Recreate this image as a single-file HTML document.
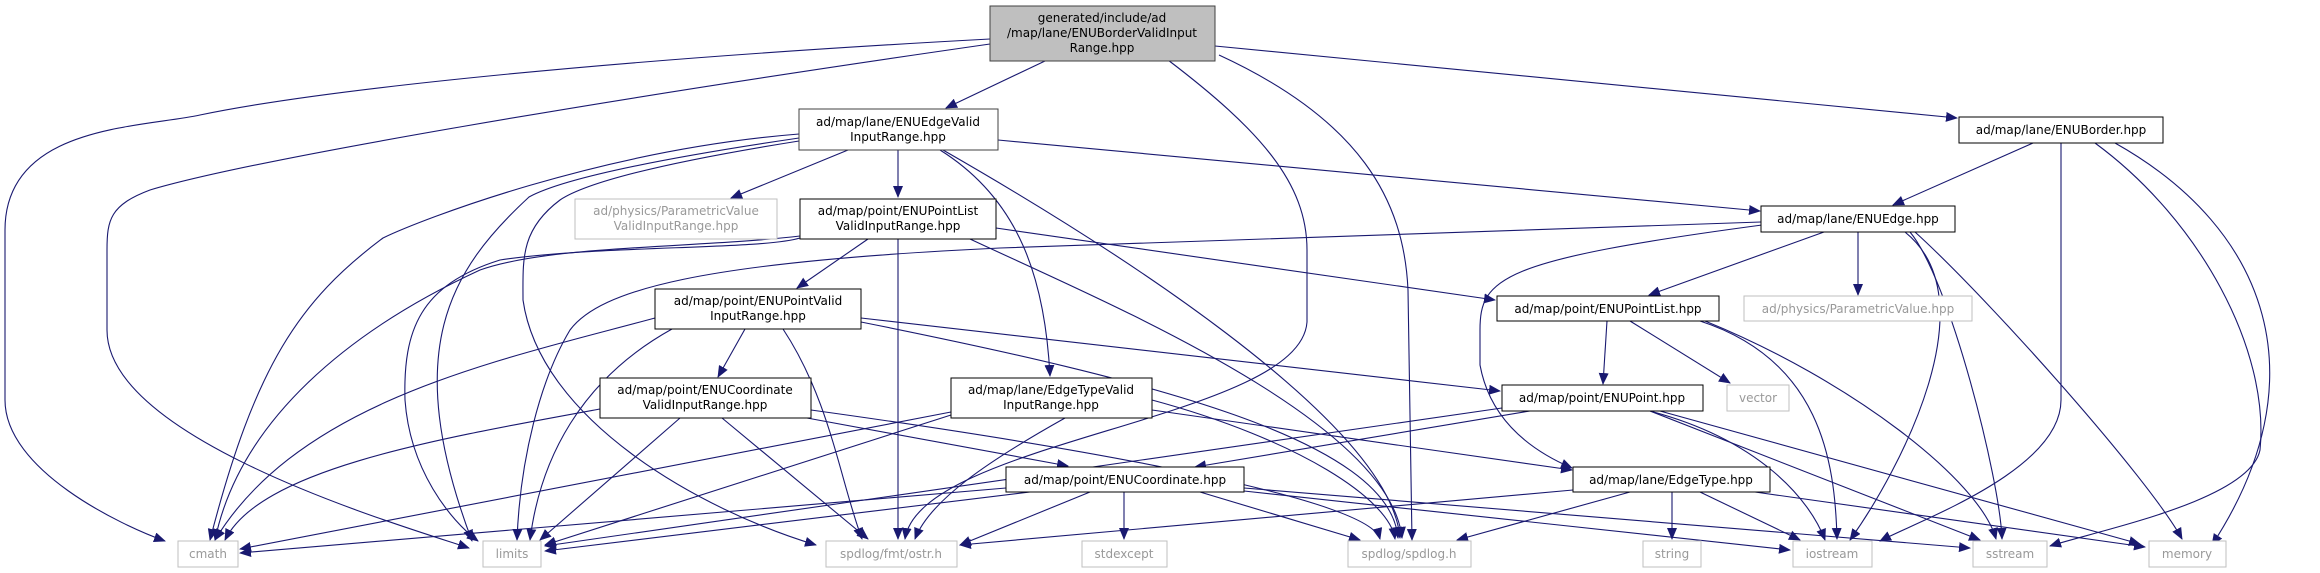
<!DOCTYPE html>
<html><head><meta charset="utf-8"><style>
html,body{margin:0;padding:0;background:#fff;}
svg{display:block;}
text{font-family:"DejaVu Sans","Liberation Sans",sans-serif;font-size:12px;fill:#000;text-anchor:middle;}
.g text{fill:#999;}
path{fill:none;stroke:#191970;stroke-width:1.1;marker-end:url(#a);}
</style></head><body>
<svg width="2320" height="573" viewBox="0 0 2320 573" xmlns="http://www.w3.org/2000/svg">
<defs><marker id="a" markerUnits="userSpaceOnUse" markerWidth="12" markerHeight="10" refX="11" refY="5" orient="auto"><polygon points="0,0 12,5 0,10" fill="#191970"/></marker></defs>

<!-- edges from top -->
<path d="M990,39 C600,60 320,90 200,115 C140,128 5,125 5,230 L5,400 C5,470 120,525 165,541"/>
<path d="M990,44 C600,100 250,160 150,190 C110,205 107,220 107,250 L107,330 C107,440 400,525 469,548"/>
<path d="M1045,61 L946,108"/>
<path d="M1215,46 L1957,118"/>
<path d="M1219,55 C1360,120 1404,200 1408,290 L1412,540"/>
<path d="M1168,60 C1260,130 1307,183 1307,250 L1307,322 C1300,420 920,440 905,539"/>

<!-- ENUEdgeValid -->
<path d="M848,150 L731,198"/>
<path d="M898,150 L898,197"/>
<path d="M998,140 L1760,211"/>
<path d="M940,150 C1020,200 1045,280 1050,376"/>
<path d="M943,150 C1100,240 1390,420 1400,538"/>
<path d="M799,134 C600,150 420,220 383,238 C300,300 255,365 210,540"/>
<path d="M799,138 C650,160 560,180 529,197 C450,270 400,350 472,541"/>
<path d="M799,141 C680,160 590,180 560,200 C520,230 523,260 523,300 C540,420 700,510 816,545"/>

<!-- ENUPointListValid -->
<path d="M868,239 L797,288"/>
<path d="M996,228 L1495,300"/>
<path d="M898,239 L898,539"/>
<path d="M970,239 C1100,300 1390,420 1402,538"/>
<path d="M800,238 C760,250 600,245 500,260 C420,285 403,330 405,400 C410,470 450,520 478,541"/>
<path d="M800,236 C700,248 550,245 480,270 C350,330 240,420 215,540"/>

<!-- ENUPointValid -->
<path d="M745,329 L718,377"/>
<path d="M861,318 L1500,391"/>
<path d="M783,329 C830,400 840,480 862,539"/>
<path d="M861,322 C1150,380 1390,440 1398,538"/>
<path d="M655,318 C500,360 300,400 215,540"/>
<path d="M672,329 C580,380 540,460 530,540"/>

<!-- ENUCoordinateValid -->
<path d="M807,418 L1068,466"/>
<path d="M722,418 L868,539"/>
<path d="M680,418 L540,540"/>
<path d="M600,409 C430,440 260,470 225,540"/>
<path d="M811,410 C1100,450 1370,500 1380,539"/>

<!-- EdgeTypeValid -->
<path d="M1152,410 L1572,470"/>
<path d="M1065,418 C990,460 930,500 915,539"/>
<path d="M1152,400 C1300,440 1390,500 1395,539"/>
<path d="M951,415 L545,545"/>
<path d="M951,412 L240,549"/>

<!-- ENUCoordinate -->
<path d="M1006,488 L240,553"/>
<path d="M1030,492 L545,551"/>
<path d="M1090,492 L960,545"/>
<path d="M1124,492 L1124,539"/>
<path d="M1200,492 L1360,540"/>
<path d="M1244,491 L1790,550"/>
<path d="M1244,488 L1970,548"/>

<!-- ENUBorder -->
<path d="M2033,143 L1893,205"/>
<path d="M2061,143 L2061,400 C2061,470 1920,520 1880,541"/>
<path d="M2095,143 C2200,220 2270,350 2260,450 C2250,500 2100,530 2050,546"/>
<path d="M2115,143 C2270,230 2320,380 2212,545"/>

<!-- ENUEdge -->
<path d="M1824,232 L1649,295"/>
<path d="M1858,232 L1858,295"/>
<path d="M1761,222 L1000,248 C700,262 600,290 570,330 C540,380 520,460 517,540"/>
<path d="M1762,225 C1500,260 1480,278 1480,330 L1480,365 C1490,420 1530,450 1572,468"/>
<path d="M1905,232 C1990,300 1900,470 1850,540"/>
<path d="M1910,232 C1950,280 2000,480 2002,539"/>
<path d="M1915,232 C1990,300 2150,480 2182,539"/>

<!-- ENUPointList -->
<path d="M1607,321 L1603,384"/>
<path d="M1630,321 L1730,383"/>
<path d="M1700,321 C1820,360 1835,460 1837,539"/>
<path d="M1705,321 C1850,380 1980,480 1996,539"/>

<!-- ENUPoint -->
<path d="M1530,411 L1195,467"/>
<path d="M1502,408 L545,546"/>
<path d="M1650,411 C1760,440 1810,500 1825,540"/>
<path d="M1650,411 L1980,540"/>
<path d="M1660,411 L2140,544"/>

<!-- EdgeType -->
<path d="M1573,490 L960,545"/>
<path d="M1630,492 L1457,540"/>
<path d="M1672,492 L1672,539"/>
<path d="M1700,492 L1800,540"/>
<path d="M1755,492 L2145,547"/>

<!-- nodes -->
<rect x="990" y="6" width="225" height="55" fill="#bfbfbf" stroke="#404040"/>
<text x="1102" y="22">generated/include/ad</text>
<text x="1102" y="37">/map/lane/ENUBorderValidInput</text>
<text x="1102" y="52">Range.hpp</text>

<rect x="799" y="109" width="199" height="41" fill="#fff" stroke="#404040"/>
<text x="898" y="126">ad/map/lane/ENUEdgeValid</text>
<text x="898" y="141">InputRange.hpp</text>

<g class="g"><rect x="575" y="199" width="202" height="40" fill="#fff" stroke="#bfbfbf"/>
<text x="676" y="215">ad/physics/ParametricValue</text>
<text x="676" y="230">ValidInputRange.hpp</text></g>

<rect x="800" y="199" width="196" height="40" fill="#fff" stroke="#000"/>
<text x="898" y="215">ad/map/point/ENUPointList</text>
<text x="898" y="230">ValidInputRange.hpp</text>

<rect x="1959" y="117" width="204" height="26" fill="#fff" stroke="#000"/>
<text x="2061" y="134">ad/map/lane/ENUBorder.hpp</text>

<rect x="1761" y="206" width="194" height="26" fill="#fff" stroke="#000"/>
<text x="1858" y="223">ad/map/lane/ENUEdge.hpp</text>

<rect x="655" y="289" width="206" height="40" fill="#fff" stroke="#000"/>
<text x="758" y="305">ad/map/point/ENUPointValid</text>
<text x="758" y="320">InputRange.hpp</text>

<rect x="1497" y="296" width="222" height="25" fill="#fff" stroke="#000"/>
<text x="1608" y="313">ad/map/point/ENUPointList.hpp</text>

<g class="g"><rect x="1744" y="296" width="228" height="25" fill="#fff" stroke="#bfbfbf"/>
<text x="1858" y="313">ad/physics/ParametricValue.hpp</text></g>

<rect x="600" y="378" width="211" height="40" fill="#fff" stroke="#000"/>
<text x="705" y="394">ad/map/point/ENUCoordinate</text>
<text x="705" y="409">ValidInputRange.hpp</text>

<rect x="951" y="378" width="201" height="40" fill="#fff" stroke="#000"/>
<text x="1051" y="394">ad/map/lane/EdgeTypeValid</text>
<text x="1051" y="409">InputRange.hpp</text>

<rect x="1502" y="385" width="201" height="26" fill="#fff" stroke="#000"/>
<text x="1602" y="402">ad/map/point/ENUPoint.hpp</text>

<g class="g"><rect x="1727" y="385" width="62" height="26" fill="#fff" stroke="#bfbfbf"/>
<text x="1758" y="402">vector</text></g>

<rect x="1006" y="467" width="238" height="25" fill="#fff" stroke="#000"/>
<text x="1125" y="484">ad/map/point/ENUCoordinate.hpp</text>

<rect x="1573" y="467" width="197" height="25" fill="#fff" stroke="#000"/>
<text x="1671" y="484">ad/map/lane/EdgeType.hpp</text>

<g class="g">
<rect x="178" y="541" width="60" height="26" fill="#fff" stroke="#bfbfbf"/><text x="208" y="558">cmath</text>
<rect x="483" y="541" width="58" height="26" fill="#fff" stroke="#bfbfbf"/><text x="512" y="558">limits</text>
<rect x="826" y="541" width="131" height="26" fill="#fff" stroke="#bfbfbf"/><text x="891" y="558">spdlog/fmt/ostr.h</text>
<rect x="1082" y="541" width="85" height="26" fill="#fff" stroke="#bfbfbf"/><text x="1124" y="558">stdexcept</text>
<rect x="1348" y="541" width="123" height="26" fill="#fff" stroke="#bfbfbf"/><text x="1409" y="558">spdlog/spdlog.h</text>
<rect x="1643" y="541" width="58" height="26" fill="#fff" stroke="#bfbfbf"/><text x="1672" y="558">string</text>
<rect x="1793" y="541" width="79" height="26" fill="#fff" stroke="#bfbfbf"/><text x="1832" y="558">iostream</text>
<rect x="1973" y="541" width="74" height="26" fill="#fff" stroke="#bfbfbf"/><text x="2010" y="558">sstream</text>
<rect x="2149" y="541" width="77" height="26" fill="#fff" stroke="#bfbfbf"/><text x="2187" y="558">memory</text>
</g>
</svg>
</body></html>
